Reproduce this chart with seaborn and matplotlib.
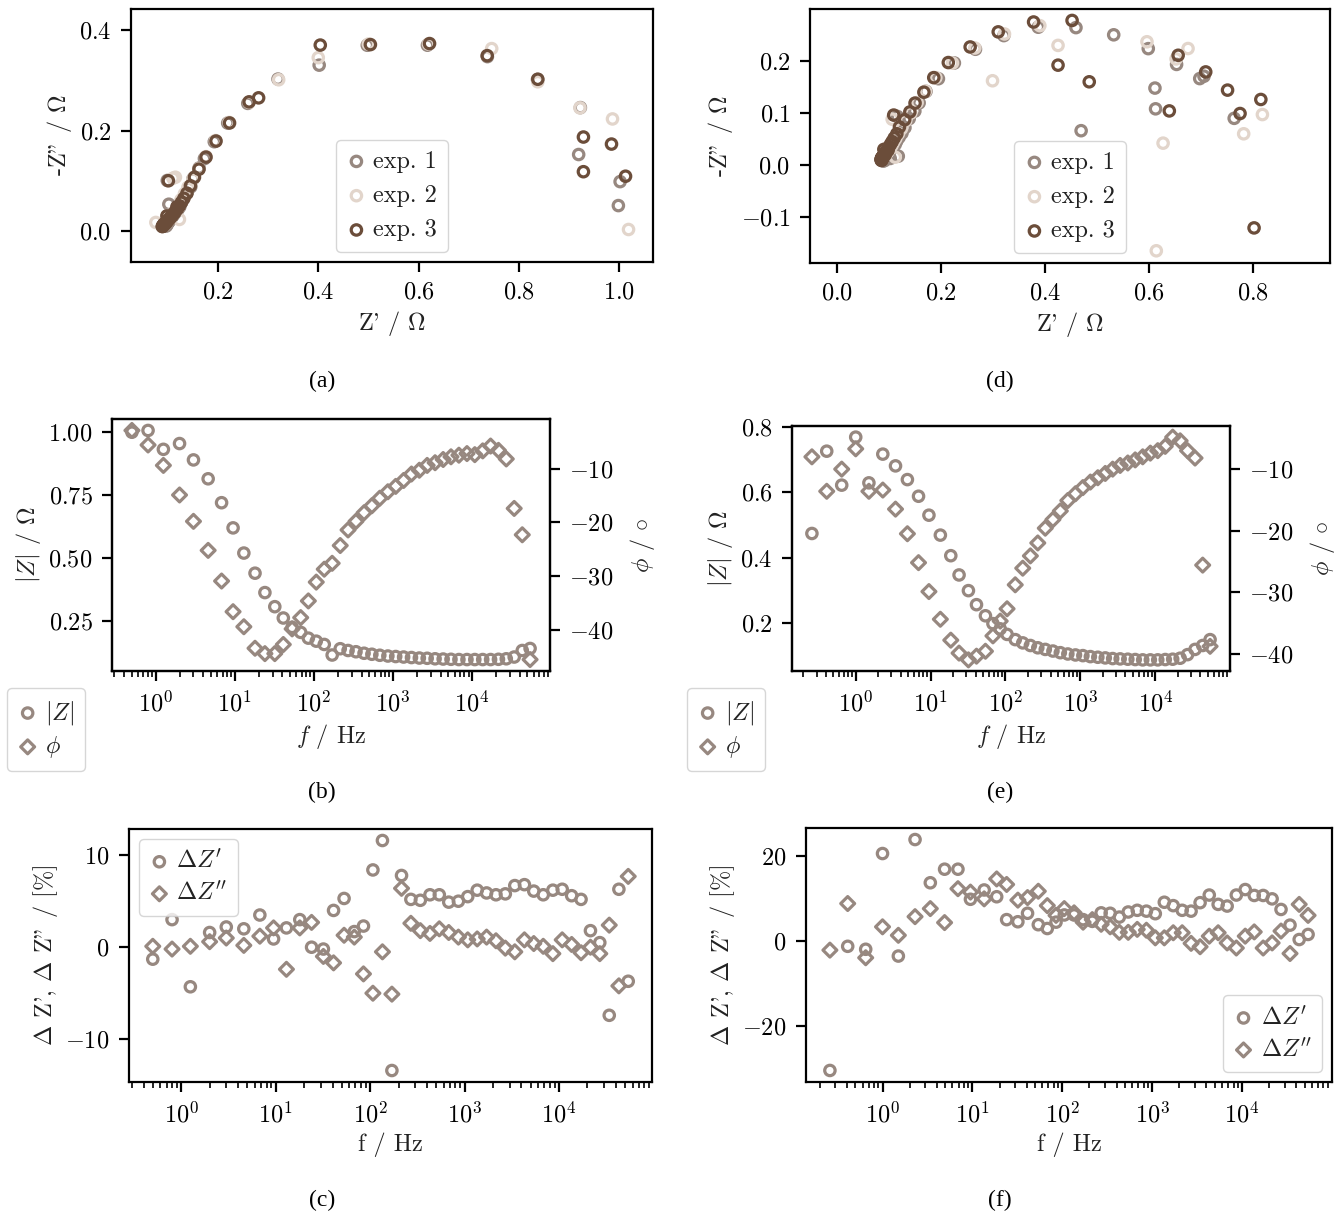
import numpy as np
import matplotlib
matplotlib.use("Agg")
import matplotlib.pyplot as plt
import seaborn as sns

W, H = 1344, 1219

# frequencies (Hz)
freq_left = [0.5, 0.8, 1.25, 2, 3, 4.6, 6.8, 9.5, 13, 18, 24, 32, 41, 53, 68, 85,
             107, 135, 170, 215, 270, 340, 430, 540, 680, 860, 1080, 1360, 1710, 2150,
             2700, 3400, 4300, 5400, 6800, 8600, 10800, 13600, 17100, 21500, 27000,
             34000, 43000, 54000]
freq_right = [0.26, 0.41, 0.65, 1.0, 1.5, 2.3, 3.4, 4.9, 6.9, 9.5, 13.5, 18.6, 24, 32,
              41, 54, 68, 85, 105, 135, 170, 215, 270, 340, 430, 540, 680, 860, 1080,
              1360, 1710, 2150, 2700, 3400, 4300, 5400, 6800, 8600, 10800, 13600, 17100,
              21500, 27000, 34000, 43000, 54000]

# |Z| (Ohm) and phase (deg), exp. 1
zmod_left = [1.000, 1.007, 0.932, 0.955, 0.890, 0.815, 0.720, 0.620, 0.520, 0.440,
             0.363, 0.307, 0.262, 0.225, 0.205, 0.182, 0.170, 0.157, 0.115, 0.140,
             0.133, 0.128, 0.122, 0.118, 0.114, 0.111, 0.109, 0.107, 0.105, 0.103,
             0.102, 0.100, 0.099, 0.098, 0.097, 0.097, 0.097, 0.097, 0.097, 0.098,
             0.100, 0.107, 0.133, 0.141]
phase_left = [-2.9, -5.6, -9.4, -14.9, -19.8, -25.2, -30.9, -36.6, -39.4, -43.4,
              -44.4, -44.4, -42.7, -39.8, -37.7, -34.6, -31.1, -28.7, -27.6, -24.3,
              -21.4, -19.8, -18.2, -16.9, -15.5, -14.3, -13.3, -12.2, -11.0, -10.3,
              -9.4, -8.9, -8.3, -7.8, -7.5, -7.2, -7.4, -6.7, -5.8, -6.6,
              -8.2, -17.4, -22.3, -45.5]
zmod_right = [0.474, 0.726, 0.622, 0.769, 0.629, 0.717, 0.681, 0.639, 0.588, 0.530,
              0.469, 0.406, 0.347, 0.299, 0.256, 0.222, 0.198, 0.182, 0.165, 0.149,
              0.139, 0.131, 0.124, 0.119, 0.114, 0.109, 0.105, 0.102, 0.100, 0.097,
              0.095, 0.093, 0.091, 0.090, 0.089, 0.088, 0.087, 0.087, 0.087, 0.088,
              0.089, 0.092, 0.103, 0.119, 0.131, 0.149]
phase_right = [-8.0, -13.6, -10.0, -6.7, -13.6, -13.4, -16.5, -20.5, -25.2, -29.9,
               -34.4, -37.8, -39.9, -41.0, -40.4, -39.6, -37.1, -34.7, -32.7, -28.8,
               -26.1, -24.1, -22.0, -19.6, -18.2, -16.8, -15.1, -14.0, -13.0, -12.1,
               -11.4, -10.7, -10.0, -9.4, -9.0, -8.5, -8.0, -7.4, -7.0, -6.3,
               -4.8, -5.4, -7.0, -8.2, -25.6, -38.8]

# Nyquist data, exp. 2 and exp. 3 (Z' and -Z'' in Ohm)
exp2_re_left = [1.019, 0.987, 0.922, 0.838, 0.746, 0.620, 0.500, 0.400, 0.321, 0.262,
                0.222, 0.195, 0.176, 0.162, 0.150, 0.140, 0.133, 0.126, 0.115, 0.123,
                0.121, 0.117, 0.113, 0.110, 0.107, 0.105, 0.103, 0.101, 0.099, 0.098,
                0.096, 0.095, 0.094, 0.093, 0.092, 0.091, 0.091, 0.091, 0.092, 0.093,
                0.095, 0.101, 0.076, 0.110]
exp2_im_left = [0.003, 0.223, 0.245, 0.297, 0.363, 0.372, 0.372, 0.345, 0.301, 0.256,
                0.216, 0.180, 0.148, 0.124, 0.103, 0.087, 0.074, 0.062, 0.107, 0.023,
                0.047, 0.042, 0.037, 0.033, 0.029, 0.026, 0.024, 0.022, 0.020, 0.018,
                0.016, 0.015, 0.014, 0.013, 0.012, 0.011, 0.011, 0.011, 0.012, 0.013,
                0.016, 0.031, 0.017, 0.105]
exp3_re_left = [1.013, 0.929, 0.985, 0.929, 0.838, 0.737, 0.622, 0.504, 0.404, 0.281,
                0.262, 0.223, 0.196, 0.176, 0.162, 0.153, 0.145, 0.138, 0.132, 0.127,
                0.123, 0.119, 0.115, 0.112, 0.109, 0.106, 0.104, 0.102, 0.100, 0.098,
                0.097, 0.095, 0.094, 0.093, 0.092, 0.091, 0.090, 0.089, 0.089, 0.090,
                0.092, 0.098, 0.118, 0.101]
exp3_im_left = [0.109, 0.118, 0.173, 0.187, 0.302, 0.349, 0.373, 0.371, 0.370, 0.265,
                0.257, 0.215, 0.179, 0.147, 0.123, 0.107, 0.090, 0.075, 0.065, 0.057,
                0.050, 0.044, 0.039, 0.035, 0.031, 0.028, 0.025, 0.023, 0.021, 0.019,
                0.017, 0.015, 0.014, 0.013, 0.012, 0.011, 0.010, 0.009, 0.009, 0.010,
                0.014, 0.030, 0.048, 0.100]
exp2_re_right = [0.614, 0.818, 0.782, 0.627, 0.652, 0.675, 0.596, 0.425, 0.299, 0.390,
                 0.322, 0.265, 0.222, 0.190, 0.170, 0.154, 0.142, 0.132, 0.106, 0.124,
                 0.118, 0.113, 0.109, 0.106, 0.103, 0.100, 0.098, 0.096, 0.094, 0.093,
                 0.091, 0.090, 0.089, 0.088, 0.088, 0.087, 0.087, 0.086, 0.086, 0.087,
                 0.088, 0.091, 0.096, 0.112, 0.101, 0.094]
exp2_im_right = [-0.165, 0.097, 0.060, 0.042, 0.204, 0.224, 0.237, 0.230, 0.162, 0.268,
                 0.252, 0.225, 0.196, 0.168, 0.142, 0.120, 0.100, 0.085, 0.088, 0.070,
                 0.060, 0.051, 0.044, 0.038, 0.033, 0.029, 0.026, 0.023, 0.021, 0.019,
                 0.017, 0.016, 0.015, 0.014, 0.013, 0.012, 0.011, 0.011, 0.010, 0.011,
                 0.013, 0.018, 0.027, 0.015, 0.036, 0.024]
exp3_re_right = [0.802, 0.775, 0.639, 0.815, 0.751, 0.709, 0.656, 0.485, 0.425, 0.452,
                 0.378, 0.310, 0.256, 0.214, 0.186, 0.167, 0.150, 0.140, 0.109, 0.130,
                 0.120, 0.115, 0.110, 0.106, 0.103, 0.100, 0.098, 0.096, 0.094, 0.092,
                 0.091, 0.090, 0.089, 0.088, 0.087, 0.086, 0.086, 0.085, 0.085, 0.085,
                 0.085, 0.086, 0.088, 0.093, 0.098, 0.090]
exp3_im_right = [-0.121, 0.099, 0.104, 0.126, 0.144, 0.179, 0.211, 0.160, 0.192, 0.278,
                 0.275, 0.256, 0.227, 0.197, 0.168, 0.140, 0.119, 0.102, 0.096, 0.087,
                 0.073, 0.060, 0.052, 0.045, 0.040, 0.035, 0.031, 0.028, 0.025, 0.023,
                 0.021, 0.019, 0.017, 0.016, 0.015, 0.014, 0.013, 0.012, 0.011, 0.010,
                 0.009, 0.009, 0.012, 0.020, 0.028, 0.030]

# relative deviations (%)
dzre_left = [-1.3, 3.0, -4.3, 1.6, 2.2, 2.0, 3.5, 0.9, 2.1, 3.0, 0.0, -0.2, 4.0, 5.3,
             1.7, 2.3, 8.4, 11.6, -13.4, 7.8, 5.2, 5.1, 5.7, 5.7, 4.9, 5.0, 5.5, 6.2,
             5.9, 5.7, 5.8, 6.7, 6.8, 6.1, 5.7, 6.2, 6.3, 5.6, 5.2, 1.8, 0.5, -7.4,
             6.3, -3.7]
dzim_left = [0.1, -0.2, 0.1, 0.6, 1.0, 0.2, 1.2, 2.1, -2.4, 2.1, 2.7, -1.0, -1.7, 1.3,
             1.1, -2.9, -5.0, -0.5, -5.1, 6.4, 2.6, 1.8, 1.5, 2.0, 1.6, 1.1, 0.8, 0.9,
             1.1, 0.7, -0.1, -0.5, 0.8, 0.4, 0.1, -0.7, 0.8, 0.3, -0.6, 0.0, -0.7, 2.4,
             -4.2, 7.7]
dzre_right = [-30.6, -1.3, -2.0, 20.6, -3.6, 23.9, 13.7, 16.9, 16.9, 9.8, 12.0, 10.4,
              5.0, 4.5, 6.5, 3.8, 2.9, 4.4, 6.1, 6.1, 5.0, 4.6, 6.6, 6.5, 5.6, 6.8,
              7.2, 7.0, 6.4, 9.1, 8.3, 7.2, 7.0, 9.0, 10.8, 8.6, 8.2, 10.8, 12.1, 10.7,
              10.7, 9.9, 7.4, 3.7, 0.3, 1.5]
dzim_right = [-2.2, 8.8, -4.0, 3.3, 1.3, 5.7, 7.6, 4.3, 12.3, 11.5, 9.9, 14.6, 13.3,
              9.6, 10.2, 11.7, 8.3, 6.0, 7.6, 6.6, 4.4, 5.0, 3.9, 3.3, 2.0, 2.0, 2.7,
              2.5, 0.7, 0.7, 1.9, 1.9, -0.6, -1.4, 1.1, 1.9, -0.5, -1.7, 1.1, 2.1,
              -1.7, -0.5, 2.3, -3.0, 8.6, 6.0]

exp_colors = ["#978880", "#e2d5cb", "#6b4d3a"]
c_mid = "#978880"

sns.set_theme(style="ticks")
plt.rcParams.update({
    "font.family": ["cmr10", "DejaVu Serif"],
    "mathtext.fontset": "cm",
    "axes.formatter.use_mathtext": True,
    "axes.unicode_minus": True,
    "font.size": 17.5,
    "axes.labelsize": 17.5,
    "xtick.labelsize": 17.5,
    "ytick.labelsize": 17.5,
    "legend.fontsize": 17.5,
    "axes.edgecolor": "black",
    "axes.linewidth": 1.6,
    "xtick.color": "black",
    "ytick.color": "black",
    "xtick.major.size": 7, "ytick.major.size": 7,
    "xtick.major.width": 1.6, "ytick.major.width": 1.6,
    "xtick.minor.size": 4, "ytick.minor.size": 4,
    "xtick.minor.width": 1.2, "ytick.minor.width": 1.2,
    "xtick.major.pad": 7, "ytick.major.pad": 7,
    "axes.labelcolor": "#222222",
    "text.color": "#222222",
})

fig = plt.figure(figsize=(W / 100, H / 100), dpi=100)


def box(l, t, r, b):
    return [l / W, 1 - b / H, (r - l) / W, (b - t) / H]


leg_kw = dict(handlelength=0.8, handletextpad=0.3, borderpad=0.45,
              edgecolor="0.8", framealpha=0.8, fancybox=True)
mk = dict(facecolors="none", linewidth=2.3, s=56)
dk = dict(facecolors="none", linewidth=2.3, s=50)


def nyquist(ax, zmod, phase, e2re, e2im, e3re, e3im, xlim, ylim, xt, yt):
    ph = np.deg2rad(phase)
    zre = np.array(zmod) * np.cos(ph)
    zim = -np.array(zmod) * np.sin(ph)
    sets = [(zre, zim), (e2re, e2im), (e3re, e3im)]
    for i, (re, im) in enumerate(sets):
        sns.scatterplot(x=re, y=im, ax=ax, marker="o", edgecolor=exp_colors[i],
                        label=f"exp. {i + 1}", **mk)
    ax.set_xlim(*xlim)
    ax.set_ylim(*ylim)
    ax.set_xticks(xt)
    ax.set_yticks(yt)
    ax.set_xlabel("Z' / $\\Omega$")
    ax.set_ylabel("-Z\" / $\\Omega$")
    ax.legend(loc="lower center", borderaxespad=0.4, **leg_kw)


def bode(ax, freq, zmod, phase, yt, leg_xy):
    sns.scatterplot(x=freq, y=zmod, ax=ax, marker="o", edgecolor=c_mid, **mk)
    ax2 = ax.twinx()
    sns.scatterplot(x=freq, y=phase, ax=ax2, marker="D", edgecolor=c_mid, **dk)
    ax.set_xscale("log")
    ax.set_yticks(yt)
    ax2.set_yticks([-10, -20, -30, -40])
    ax.set_xlabel("$f$ / Hz")
    ax.set_ylabel("$|Z|$ / $\\Omega$")
    ax2.set_ylabel("$\\phi$ / $\\circ$", labelpad=10)
    ax2.spines["right"].set_visible(True)
    ax2.spines["top"].set_visible(True)
    h = ax.collections[:1] + ax2.collections[:1]
    fig.legend(h, ["$|Z|$", "$\\phi$"], loc="upper left",
               bbox_to_anchor=(leg_xy[0] / W, 1 - leg_xy[1] / H),
               borderaxespad=0, labelspacing=0.3, **leg_kw)


def deviation(ax, freq, dre, dim, loc):
    sns.scatterplot(x=freq, y=dre, ax=ax, marker="o", edgecolor=c_mid,
                    label="$\\Delta Z^{\\prime}$", **mk)
    sns.scatterplot(x=freq, y=dim, ax=ax, marker="D", edgecolor=c_mid,
                    label="$\\Delta Z^{\\prime\\prime}$", **dk)
    ax.set_xscale("log")
    ax.set_xlabel("f / Hz")
    ax.set_ylabel("$\\Delta$ Z', $\\Delta$ Z\" / [%]")
    ax.legend(loc=loc, borderaxespad=0.4, labelspacing=0.35, **leg_kw)


ax_a = fig.add_axes(box(131, 9, 653, 262))
nyquist(ax_a, zmod_left, phase_left, exp2_re_left, exp2_im_left, exp3_re_left,
        exp3_im_left, (0.0264, 1.0678), (-0.0617, 0.4418),
        [0.2, 0.4, 0.6, 0.8, 1.0], [0.0, 0.2, 0.4])
ax_d = fig.add_axes(box(810, 9, 1330, 263))
nyquist(ax_d, zmod_right, phase_right, exp2_re_right, exp2_im_right, exp3_re_right,
        exp3_im_right, (-0.052, 0.948), (-0.1885, 0.3),
        [0.0, 0.2, 0.4, 0.6, 0.8], [-0.1, 0.0, 0.1, 0.2])

ax_b = fig.add_axes(box(112, 419, 550, 671))
bode(ax_b, freq_left, zmod_left, phase_left, [0.25, 0.50, 0.75, 1.00], (7, 688))
ax_e = fig.add_axes(box(792, 426, 1230, 671))
bode(ax_e, freq_right, zmod_right, phase_right, [0.2, 0.4, 0.6, 0.8], (687, 688))

ax_c = fig.add_axes(box(129, 829, 652, 1082))
deviation(ax_c, freq_left, dzre_left, dzim_left, "upper left")
ax_c.set_yticks([-10, 0, 10])
ax_f = fig.add_axes(box(806, 828, 1332, 1082))
deviation(ax_f, freq_right, dzre_right, dzim_right, "lower right")
ax_f.set_yticks([-20, 0, 20])

for ax in [ax_a, ax_d, ax_b, ax_e, ax_c, ax_f]:
    sns.despine(ax=ax, top=False, right=False)

for lab, x, y in [("(a)", 322, 381), ("(d)", 1000, 381), ("(b)", 322, 792),
                  ("(e)", 1000, 792), ("(c)", 322, 1200), ("(f)", 1000, 1200)]:
    fig.text(x / W, 1 - y / H, lab, ha="center", va="center",
             family="Liberation Serif", fontsize=17, color="black")

fig.savefig("out.png", dpi=100)
